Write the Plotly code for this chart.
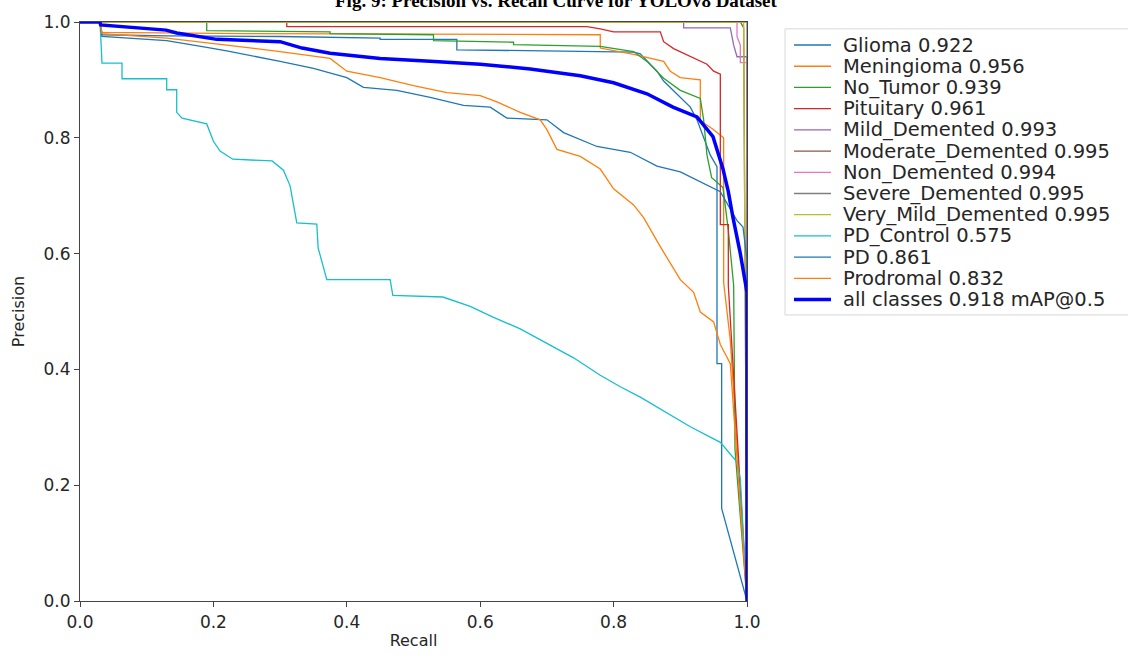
import plotly.graph_objects as go

# ---------------- data ----------------
class_names = ["Glioma", "Meningioma", "No_Tumor", "Pituitary", "Mild_Demented",
               "Moderate_Demented", "Non_Demented", "Severe_Demented",
               "Very_Mild_Demented", "PD_Control", "PD", "Prodromal"]
class_ap = [0.922, 0.956, 0.939, 0.961, 0.993, 0.995, 0.994, 0.995, 0.995, 0.575, 0.861, 0.832]
all_ap = 0.918
class_colors = ["#1f77b4", "#ff7f0e", "#2ca02c", "#d62728", "#9467bd", "#8c564b",
                "#e377c2", "#7f7f7f", "#bcbd22", "#17becf", "#1f77b4", "#ff7f0e"]

x_ticks = [0.0, 0.2, 0.4, 0.6, 0.8, 1.0]
y_ticks = [0.0, 0.2, 0.4, 0.6, 0.8, 1.0]

glioma_r = [0, 0.03, 0.033, 0.13, 0.30, 0.45, 0.45, 0.565, 0.565, 0.83, 0.84, 0.855, 0.865, 0.875,
            0.885, 0.90, 0.915, 0.925, 0.935, 0.945, 0.955, 0.955, 0.962, 0.962, 1.0]
glioma_p = [1, 1, 0.978, 0.976, 0.975, 0.972, 0.97, 0.97, 0.952, 0.948, 0.945, 0.927, 0.915, 0.898,
            0.887, 0.87, 0.853, 0.831, 0.80, 0.77, 0.75, 0.41, 0.41, 0.16, 0.0]

meningioma_r = [0, 0.03, 0.033, 0.25, 0.78, 0.78, 0.83, 0.875, 0.885, 0.90, 0.93, 0.93, 0.95,
                0.965, 0.965, 0.975, 1.0]
meningioma_p = [1, 1, 0.982, 0.98, 0.978, 0.955, 0.944, 0.932, 0.915, 0.904, 0.90, 0.83, 0.814,
                0.80, 0.55, 0.45, 0.0]

no_tumor_r = [0, 0.19, 0.19, 0.375, 0.375, 0.53, 0.53, 0.65, 0.65, 0.78, 0.83, 0.85, 0.875, 0.90,
              0.93, 0.935, 0.94, 0.947, 0.964, 0.972, 0.98, 0.982, 1.0]
no_tumor_p = [1, 1, 0.985, 0.983, 0.98, 0.978, 0.968, 0.965, 0.961, 0.958, 0.949, 0.932, 0.903,
              0.882, 0.868, 0.831, 0.77, 0.731, 0.714, 0.64, 0.545, 0.262, 0.0]

pituitary_r = [0, 0.31, 0.31, 0.76, 0.78, 0.80, 0.87, 0.875, 0.89, 0.905, 0.92, 0.94, 0.95, 0.96,
               0.96, 0.972, 0.972, 1.0]
pituitary_p = [1, 1, 0.992, 0.992, 0.988, 0.983, 0.983, 0.966, 0.954, 0.946, 0.937, 0.927, 0.915,
               0.91, 0.65, 0.65, 0.545, 0.0]

mild_r = [0, 0.905, 0.905, 0.975, 0.98, 0.985, 1.0, 1.0]
mild_p = [1, 1, 0.99, 0.99, 0.96, 0.94, 0.94, 0.0]

moderate_r = [0, 0.99, 0.995, 1.0]
moderate_p = [1, 1, 0.99, 0.0]

non_r = [0, 0.985, 0.985, 0.99, 0.99, 1.0, 1.0]
non_p = [1, 1, 0.975, 0.96, 0.93, 0.93, 0.0]

severe_r = [0, 1.0, 1.0]
severe_p = [1, 1, 0.0]

very_mild_r = [0, 0.995, 0.995, 1.0]
very_mild_p = [1, 1, 0.98, 0.0]

pd_control_r = [0, 0.03, 0.033, 0.063, 0.063, 0.13, 0.13, 0.145, 0.145, 0.153, 0.19, 0.20, 0.21,
                0.229, 0.288, 0.305, 0.315, 0.32, 0.325, 0.355, 0.357, 0.37, 0.465, 0.469, 0.544,
                0.585, 0.62, 0.66, 0.70, 0.74, 0.78, 0.81, 0.84, 0.889, 0.915, 0.96, 0.985, 0.99, 1.0]
pd_control_p = [1, 1, 0.929, 0.929, 0.902, 0.902, 0.883, 0.883, 0.844, 0.834, 0.824, 0.794, 0.777,
                0.763, 0.76, 0.744, 0.717, 0.684, 0.653, 0.651, 0.61, 0.555, 0.555, 0.528, 0.525,
                0.509, 0.49, 0.47, 0.445, 0.42, 0.39, 0.37, 0.352, 0.318, 0.301, 0.274, 0.24, 0.21, 0.0]

pd_r = [0, 0.03, 0.033, 0.13, 0.19, 0.22, 0.30, 0.35, 0.40, 0.425, 0.475, 0.525, 0.575, 0.615,
        0.64, 0.70, 0.725, 0.775, 0.825, 0.865, 0.90, 0.93, 0.96, 0.985, 0.994, 1.0, 1.0]
pd_p = [1, 1, 0.975, 0.968, 0.956, 0.95, 0.932, 0.92, 0.904, 0.887, 0.882, 0.87, 0.856, 0.853,
        0.834, 0.831, 0.809, 0.785, 0.775, 0.751, 0.741, 0.724, 0.707, 0.657, 0.646, 0.589, 0.0]

prodromal_r = [0, 0.03, 0.033, 0.13, 0.22, 0.30, 0.375, 0.40, 0.45, 0.50, 0.55, 0.60, 0.625, 0.66,
               0.69, 0.70, 0.715, 0.75, 0.78, 0.80, 0.83, 0.845, 0.87, 0.90, 0.92, 0.93, 0.95,
               0.96, 0.975, 1.0]
prodromal_p = [1, 1, 0.98, 0.972, 0.96, 0.949, 0.937, 0.915, 0.904, 0.89, 0.878, 0.873, 0.862,
               0.844, 0.831, 0.814, 0.78, 0.768, 0.746, 0.712, 0.684, 0.662, 0.612, 0.555, 0.533,
               0.499, 0.482, 0.443, 0.41, 0.0]

all_r = [0, 0.03, 0.031, 0.129, 0.145, 0.205, 0.30, 0.333, 0.375, 0.45, 0.525, 0.60, 0.675, 0.75,
         0.80, 0.85, 0.889, 0.925, 0.949, 0.964, 0.972, 0.979, 0.99, 1.0, 1.0]
all_p = [1, 1, 0.995, 0.986, 0.981, 0.97, 0.966, 0.955, 0.946, 0.937, 0.932, 0.927, 0.919, 0.907,
         0.895, 0.876, 0.853, 0.836, 0.802, 0.746, 0.707, 0.662, 0.6, 0.533, 0.0]

class_recalls = [glioma_r, meningioma_r, no_tumor_r, pituitary_r, mild_r, moderate_r, non_r,
                 severe_r, very_mild_r, pd_control_r, pd_r, prodromal_r]
class_precisions = [glioma_p, meningioma_p, no_tumor_p, pituitary_p, mild_p, moderate_p, non_p,
                    severe_p, very_mild_p, pd_control_p, pd_p, prodromal_p]

title_text = "Fig. 9: Precision vs. Recall Curve for YOLOv8 Dataset"

# ---------------- figure ----------------
W, H = 1128, 659
L, R, T, B = 80, 747, 14, 605   # plot area in pixels

fig = go.Figure()
labels = []
for name, ap, col, rr, pp in zip(class_names, class_ap, class_colors, class_recalls, class_precisions):
    lab = f"{name} {ap:.3f}"
    labels.append((lab, col, 1.3))
    fig.add_trace(go.Scatter(x=rr, y=pp, mode="lines", name=lab, showlegend=False,
                             line=dict(color=col, width=1.3)))
all_lab = f"all classes {all_ap:.3f} mAP@0.5"
labels.append((all_lab, "#0000ff", 3.5))
fig.add_trace(go.Scatter(x=all_r, y=all_p, mode="lines", name=all_lab, showlegend=False,
                         line=dict(color="#0000ff", width=3.5)))


def px2paper_x(px):
    return (px - L) / (R - L)


def px2paper_y(py):
    return (B - py) / (B - T)


shapes = []
annotations = []
# legend frame
shapes.append(dict(type="rect", xref="paper", yref="paper",
                   x0=px2paper_x(785), x1=px2paper_x(1140),
                   y0=px2paper_y(313), y1=px2paper_y(21),
                   line=dict(color="#d8d8d8", width=1), fillcolor="white", layer="above"))
row0, dy = 37.5, 21.65
for i, (lab, col, w) in enumerate(labels):
    yy = row0 + i * dy
    shapes.append(dict(type="line", xref="paper", yref="paper",
                       x0=px2paper_x(794), x1=px2paper_x(831),
                       y0=px2paper_y(yy), y1=px2paper_y(yy),
                       line=dict(color=col, width=w), layer="above"))
    annotations.append(dict(xref="paper", yref="paper", x=px2paper_x(841), y=px2paper_y(yy),
                            xanchor="left", yanchor="middle", showarrow=False, text=lab,
                            font=dict(family="DejaVu Sans", size=19.5, color="#262626")))

annotations.append(dict(xref="paper", yref="paper", x=px2paper_x(556), y=px2paper_y(5),
                        xanchor="center", yanchor="bottom", showarrow=False, text="<b>" + title_text + "</b>",
                        font=dict(family="Liberation Serif", size=19, color="black")))

axis_common = dict(range=[0, 1], showgrid=False, zeroline=False, showline=True, mirror=True,
                   linecolor="#444", linewidth=1.2, ticks="outside", ticklen=5, tickwidth=1.2,
                   tickcolor="#444", tickformat=".1f",
                   tickfont=dict(family="DejaVu Sans", size=17, color="#262626"))

fig.update_layout(
    width=W, height=H,
    margin=dict(l=L, r=W - R, t=T, b=H - B, pad=0),
    paper_bgcolor="white", plot_bgcolor="white",
    showlegend=False,
    xaxis=dict(axis_common, tickvals=x_ticks,
               title=dict(text="Recall", standoff=4,
                          font=dict(family="DejaVu Sans", size=16, color="#262626"))),
    yaxis=dict(axis_common, tickvals=y_ticks,
               title=dict(text="Precision", standoff=14,
                          font=dict(family="DejaVu Sans", size=16, color="#262626"))),
    shapes=shapes, annotations=annotations,
)

fig.write_html("out.html")
